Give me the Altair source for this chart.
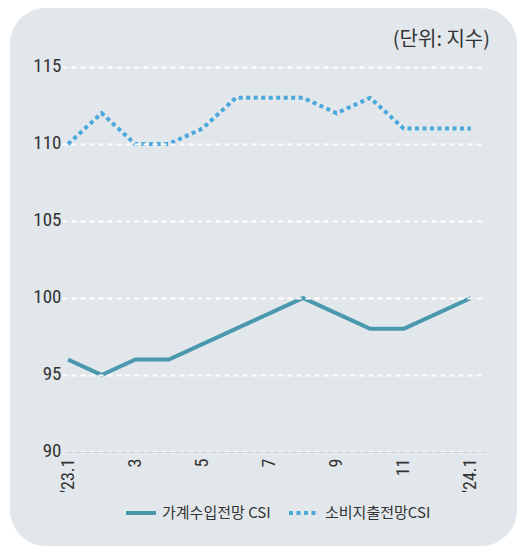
import altair as alt
import pandas as pd

months = ["'23.1", "2", "3", "4", "5", "6", "7", "8", "9", "10", "11", "12", "'24.1"]
income_csi = [96, 95, 96, 96, 97, 98, 99, 100, 99, 98, 98, 99, 100]
spending_csi = [110, 112, 110, 110, 111, 113, 113, 113, 112, 113, 111, 111, 111]
series_names = ["가계수입전망 CSI", "소비지출전망CSI"]
unit_text = "(단위: 지수)"

rows = []
for i, m in enumerate(months):
    rows.append({"idx": i, "month": m, "series": series_names[0], "value": income_csi[i]})
    rows.append({"idx": i, "month": m, "series": series_names[1], "value": spending_csi[i]})
df = pd.DataFrame(rows)

label_expr = "datum.value == 0 ? \"'23.1\" : datum.value == 12 ? \"'24.1\" : (datum.value % 2 == 0 ? '' + (datum.value + 1) : '')"

NUM_FONT = "Liberation Sans Narrow, Roboto Condensed, Roboto, sans-serif"
KR_FONT = "Noto Sans CJK KR, sans-serif"

bg = alt.Chart(pd.DataFrame({"a": [0]})).mark_rect(
    color="#e2e7eb", cornerRadius=36
).encode(
    x=alt.value(-52), x2=alt.value(455), y=alt.value(-59), y2=alt.value(479)
)

unit = alt.Chart(pd.DataFrame({"t": [unit_text]})).mark_text(
    font=KR_FONT, fontSize=20, color="#333333", align="right", baseline="middle"
).encode(text="t:N", x=alt.value(428), y=alt.value(-27))

leg = dict(title=None, orient="none", direction="horizontal",
           legendX=62, legendY=429, symbolType="stroke",
           symbolSize=900, symbolStrokeWidth=4,
           labelFont=KR_FONT, labelFontSize=15,
           labelColor="#333333", labelOffset=4, columnPadding=10)

lines = alt.Chart(df).mark_line(strokeWidth=4, strokeCap="butt", strokeJoin="miter").encode(
    x=alt.X("idx:Q",
            scale=alt.Scale(domain=[-0.18, 12.42], nice=False, zero=False),
            axis=alt.Axis(values=[0, 2, 4, 6, 8, 10, 12], labelExpr=label_expr,
                          labelAngle=270, labelAlign="right", labelBaseline="middle",
                          labelFont=NUM_FONT, labelFontSize=18, labelColor="#333333",
                          labelPadding=6, ticks=False, grid=False, domain=True,
                          domainColor="#d9d4d4", domainWidth=1, title=None, zindex=1)),
    y=alt.Y("value:Q",
            scale=alt.Scale(domain=[90, 115], nice=False, zero=False),
            axis=alt.Axis(values=[90, 95, 100, 105, 110, 115], labelFont=NUM_FONT,
                          labelFontSize=19, labelColor="#333333", labelPadding=1,
                          labelOffset=-2, ticks=False, domain=False, grid=True,
                          gridColor="#ffffff", gridWidth=2, gridDash=[5, 4],
                          title=None, zindex=1)),
    color=alt.Color("series:N",
                    scale=alt.Scale(domain=series_names, range=["#4a98ad", "#4aa8dc"]),
                    legend=alt.Legend(**leg)),
    strokeDash=alt.StrokeDash("series:N",
                              scale=alt.Scale(domain=series_names, range=[[1, 0], [4, 3.5]]),
                              legend=alt.Legend(**leg)),
    detail="series:N",
)

chart = alt.layer(bg, unit, lines).properties(
    width=423,
    height=385,
    padding={"left": 54, "top": 59, "right": 32, "bottom": 94},
    autosize=alt.AutoSizeParams(type="none"),
    background="#ffffff",
).configure_view(stroke=None)

chart.save("out.html", embed_options={"renderer": "svg", "actions": False})
